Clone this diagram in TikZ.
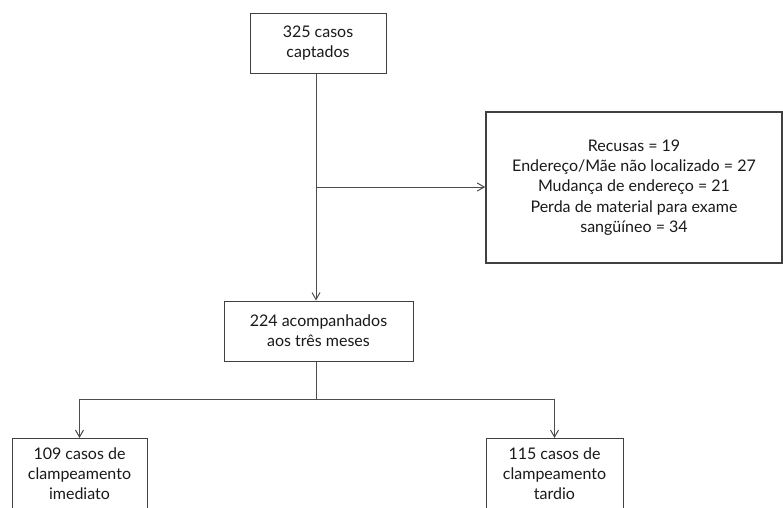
\documentclass[tikz,border=0pt]{standalone}
\usepackage{fontspec}
\setmainfont{Lato}
\usetikzlibrary{arrows.meta}
\begin{document}
\begin{tikzpicture}[x=1pt,y=-1pt,
  box/.style={draw=black!75, line width=1pt, align=center, inner sep=0pt,
    font=\fontsize{16}{20.3}\selectfont, text=black!90},
  conn/.style={draw=black!70, line width=1pt},
  arr/.style={conn, -{Straight Barb[length=7pt,width=8pt,line width=1pt]}}]
\useasboundingbox (0,0) rectangle (783,507);
\clip (0,0) rectangle (783,507);
\node[box, minimum width=136pt, minimum height=60pt] (top) at (318,43) {325 casos\\captados};
\node[box, line width=1.6pt, minimum width=296pt, minimum height=151pt] (loss) at (634,187.5) {Recusas = 19\\Endereço/Mãe não localizado = 27\\Mudança de endereço = 21\\Perda de material para exame\\sangüíneo = 34};
\node[box, minimum width=189pt, minimum height=60pt] (mid) at (318.5,331) {224 acompanhados\\aos três meses};
\node[box, minimum width=135pt, anchor=north, inner ysep=9pt] (left) at (79.5,438) {109 casos de\\clampeamento\\imediato\\[6pt]};
\node[box, minimum width=137pt, anchor=north, inner ysep=9pt] (right) at (554.5,438) {115 casos de\\clampeamento\\tardio\\[6pt]};
\coordinate (j1) at (316,187);
\coordinate (j2) at (316,399);
\draw[arr] (top.south -| j1) -- (mid.north -| j1);
\draw[arr] (j1) -- (loss.west |- j1);
\draw[conn] (mid.south -| j2) -- (j2);
\draw[arr] (j2) -| (left.north);
\draw[arr] (j2) -| (right.north);
\end{tikzpicture}
\end{document}
